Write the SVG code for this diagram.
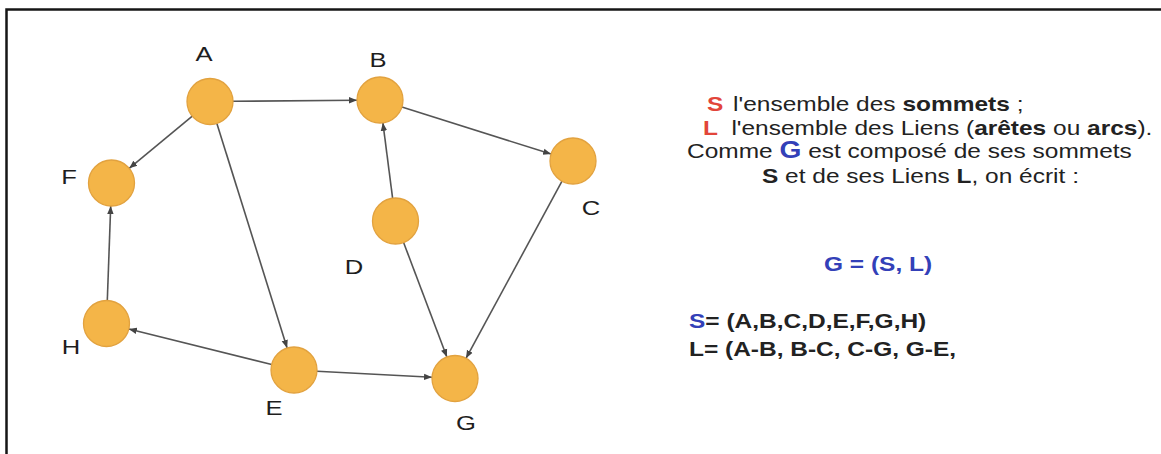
<svg xmlns="http://www.w3.org/2000/svg" width="1161" height="454" viewBox="0 0 1161 454">
<style>
.node{fill:#F4B548;stroke:#E2A23F;stroke-width:1.3}
.lbl{font-family:"Liberation Sans",Arial,sans-serif;font-size:21px;fill:#1e1e1e;text-anchor:middle}
.edge{stroke:#555;stroke-width:1.6;fill:none;marker-end:url(#arr)}
.t{font-family:"Liberation Sans",Arial,sans-serif;font-size:20px;fill:#222;white-space:pre}
.b{font-weight:bold}
.red{fill:#E2453A}
.blue{fill:#3340B8}
</style>
<defs>
<marker id="arr" markerUnits="userSpaceOnUse" markerWidth="10" markerHeight="8" refX="8" refY="4" orient="auto">
<path d="M0,0.8 L8,4 L0,7.2 Z" fill="#444"/>
</marker>
</defs>
<rect width="1161" height="454" fill="#fff"/>
<path d="M6.5,454 V9.5 H1161" fill="none" stroke="#161616" stroke-width="2.5"/>
<g id="connectors">
<line class="edge" x1="233" y1="101.3" x2="357" y2="100.2"/>
<line class="edge" x1="192.3" y1="116.2" x2="129.2" y2="168.3"/>
<line class="edge" x1="216.9" y1="123.5" x2="287.1" y2="348"/>
<line class="edge" x1="401.9" y1="106.9" x2="551.1" y2="154.1"/>
<line class="edge" x1="392.6" y1="198.2" x2="382.9" y2="122.8"/>
<line class="edge" x1="403.6" y1="242.5" x2="446.9" y2="357"/>
<line class="edge" x1="562" y1="181.2" x2="466" y2="358.3"/>
<line class="edge" x1="107.3" y1="300.5" x2="110.7" y2="206"/>
<line class="edge" x1="271.7" y1="364.5" x2="128.8" y2="329"/>
<line class="edge" x1="317" y1="371.2" x2="432" y2="377.3"/>
</g>
<g id="node-A"><circle class="node" cx="210" cy="101.5" r="23"/><text class="lbl" transform="translate(204,61) scale(1.22,1)">A</text></g>
<g id="node-B"><circle class="node" cx="380" cy="100" r="23"/><text class="lbl" transform="translate(378,67) scale(1.22,1)">B</text></g>
<g id="node-C"><circle class="node" cx="573" cy="161" r="23"/><text class="lbl" transform="translate(591,215) scale(1.22,1)">C</text></g>
<g id="node-D"><circle class="node" cx="395.5" cy="221" r="23"/><text class="lbl" transform="translate(354,274) scale(1.22,1)">D</text></g>
<g id="node-E"><circle class="node" cx="294" cy="370" r="23"/><text class="lbl" transform="translate(274,415) scale(1.22,1)">E</text></g>
<g id="node-F"><circle class="node" cx="111.5" cy="183" r="23"/><text class="lbl" transform="translate(69,184) scale(1.22,1)">F</text></g>
<g id="node-G"><circle class="node" cx="455" cy="378.5" r="23"/><text class="lbl" transform="translate(466,430) scale(1.22,1)">G</text></g>
<g id="node-H"><circle class="node" cx="106.5" cy="323.5" r="23"/><text class="lbl" transform="translate(71,354) scale(1.22,1)">H</text></g>
<g id="text">
<text class="t" transform="translate(707,111) scale(1.224,1)"><tspan class="b red">S</tspan><tspan dx="8">l'ensemble des </tspan><tspan class="b">sommets</tspan><tspan> ;</tspan></text>
<text class="t" transform="translate(703,134.5) scale(1.224,1)"><tspan class="b red">L</tspan><tspan dx="11">l'ensemble des Liens (</tspan><tspan class="b">arêtes</tspan><tspan> ou </tspan><tspan class="b">arcs</tspan><tspan>).</tspan></text>
<text class="t" transform="translate(687,157.5) scale(1.224,1)"><tspan>Comme </tspan><tspan class="b blue" font-size="23">G</tspan><tspan> est composé de ses sommets</tspan></text>
<text class="t" transform="translate(762,183) scale(1.224,1)"><tspan class="b">S</tspan><tspan> et de ses Liens </tspan><tspan class="b">L</tspan><tspan>, on écrit :</tspan></text>
<text class="t b blue" transform="translate(824,271) scale(1.224,1)">G = (S, L)</text>
<text class="t b" transform="translate(689,328) scale(1.224,1)"><tspan class="blue">S</tspan><tspan>= (A,B,C,D,E,F,G,H)</tspan></text>
<text class="t b" transform="translate(689,356) scale(1.224,1)">L= (A-B, B-C, C-G, G-E,</text>
</g>
</svg>
